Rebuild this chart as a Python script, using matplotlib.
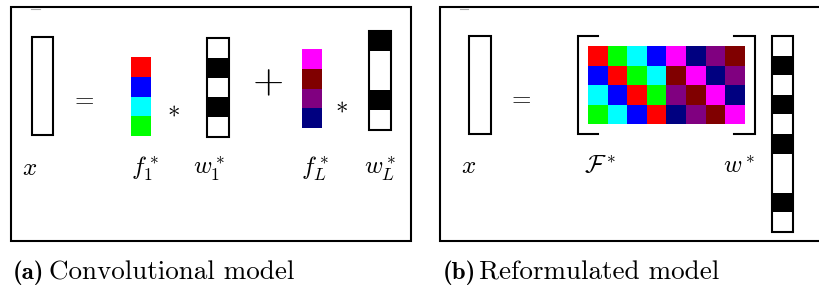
import numpy as np
import matplotlib
matplotlib.use("Agg")
import matplotlib.pyplot as plt
from matplotlib.patches import Rectangle

plt.rcParams['mathtext.fontset'] = 'cm'

# ---------------- data ----------------
f1_colors = ['#ff0000', '#0000ff', '#00ffff', '#00ff00']   # filter f_1^*
fL_colors = ['#ff00ff', '#800000', '#800080', '#000080']   # filter f_L^*
w1_pattern = [0, 1, 0, 1, 0]                               # code w_1^* (1 = black)
wL_pattern = [1, 0, 0, 1, 0]                               # code w_L^*
w_all = w1_pattern + wL_pattern                            # stacked code w^*
labels_a = ['$x$', '$f_1^*$', '$w_1^*$', '$f_L^*$', '$w_L^*$']
labels_b = ['$x$', r'$\mathcal{F}^*$', '$w^*$']
caption_tags = ['(a)', '(b)']
caption_texts = ['Convolutional model', 'Reformulated model']

# circulant blocks of the reformulated dictionary (one column per shift)
def circulant(cols):
    n = len(cols)
    return [[cols[(r - c) % n] for c in range(n)] for r in range(n)]

F1 = circulant(f1_colors)
FL = circulant(fL_colors)
F_matrix = [F1[r] + FL[r] for r in range(len(f1_colors))]

# ---------------- figure ----------------
W, H = 820, 288
fig = plt.figure(figsize=(W / 100, H / 100), dpi=100)
ax = fig.add_axes([0, 0, 1, 1])
ax.set_xlim(0, W)
ax.set_ylim(H, 0)
ax.axis('off')

LW = 1.5


def color_column(x0, x1, y0, y1, colors):
    n = len(colors)
    h = (y1 - y0) / n
    for i, c in enumerate(colors):
        ax.add_patch(Rectangle((x0, y0 + i * h), x1 - x0, h, facecolor=c,
                               edgecolor='none'))


def code_column(x0, x1, y0, y1, pattern):
    n = len(pattern)
    h = (y1 - y0) / n
    for i, v in enumerate(pattern):
        if v:
            ax.add_patch(Rectangle((x0, y0 + i * h), x1 - x0, h,
                                   facecolor='black', edgecolor='none'))
    ax.add_patch(Rectangle((x0, y0), x1 - x0, y1 - y0, facecolor='none',
                           edgecolor='black', lw=LW))


def empty_column(x0, x1, y0, y1):
    ax.add_patch(Rectangle((x0, y0), x1 - x0, y1 - y0, facecolor='none',
                           edgecolor='black', lw=LW))


# ---------- panel (a) ----------
ax.add_patch(Rectangle((11, 7), 400, 234, facecolor='none', edgecolor='black', lw=LW))
ax.plot([31, 40], [8.8, 8.8], color='#aaaaaa', lw=0.8)
empty_column(32, 53, 37, 135)
color_column(131, 151, 57, 136, f1_colors)
code_column(207, 229, 38, 137, w1_pattern)
color_column(302, 322, 49, 128, fL_colors)
code_column(369, 391, 31, 130, wL_pattern)

ax.text(82, 98, '$=$', fontsize=18, ha='center', va='center')
ax.text(173, 109, r'$\ast$', fontsize=18, ha='center', va='center')
ax.text(268, 82.5, '$+$', fontsize=29, ha='center', va='center')
ax.text(341, 106, r'$\ast$', fontsize=18, ha='center', va='center')

for lab, xc in zip(labels_a, [30, 145, 209, 315, 380]):
    ax.text(xc, 175, lab, fontsize=18, ha='center', va='baseline')

# ---------- panel (b) ----------
ax.plot([W + 5, 440, 440, W + 5], [7, 7, 241, 241], color='black', lw=LW,
        solid_joinstyle='miter', clip_on=True)
ax.plot([460, 468], [8.8, 8.8], color='#aaaaaa', lw=0.8)
empty_column(469, 491, 36, 134)
ax.text(519, 97, '$=$', fontsize=18, ha='center', va='center')

# matrix of colored cells
nr, nc = len(F_matrix), len(F_matrix[0])
mx0, mx1, my0, my1 = 588, 745, 46, 124
cw, ch = (mx1 - mx0) / nc, (my1 - my0) / nr
for r in range(nr):
    for c in range(nc):
        ax.add_patch(Rectangle((mx0 + c * cw, my0 + r * ch), cw, ch,
                               facecolor=F_matrix[r][c], edgecolor='none'))
# brackets
ax.plot([598, 578, 578, 598], [36, 36, 134, 134], color='black', lw=LW,
        solid_joinstyle='miter')
ax.plot([734, 755, 755, 734], [36, 36, 134, 134], color='black', lw=LW,
        solid_joinstyle='miter')

code_column(772, 793, 36, 232, w_all)

for lab, xc in zip(labels_b, [469, 600, 739]):
    ax.text(xc, 173, lab, fontsize=18, ha='center', va='baseline')

# ---------- captions ----------
for tag, txt, xt, xx in zip(caption_tags, caption_texts, [13, 443], [49, 479]):
    ax.text(xt, 279, tag, fontsize=18, family='cmb10', ha='left', va='baseline')
    ax.text(xx, 279, txt, fontsize=19.5, family='cmr10', ha='left', va='baseline')

fig.savefig('out.png', dpi=100)
